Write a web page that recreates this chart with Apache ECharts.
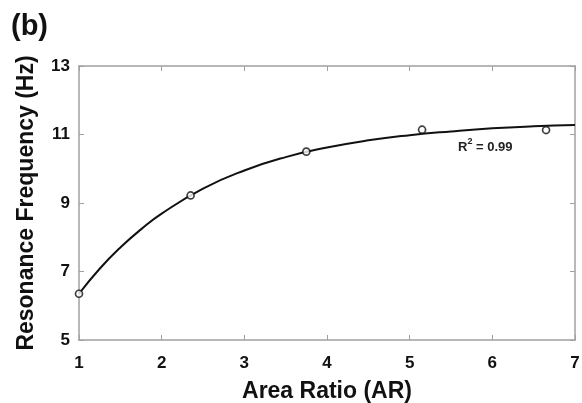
<!DOCTYPE html>
<html>
<head>
<meta charset="utf-8">
<script src="https://cdn.jsdelivr.net/npm/echarts@6/dist/echarts.min.js"></script>
<style>
  html, body { margin: 0; padding: 0; background: #fff; }
  #chart { width: 582px; height: 403px; }
</style>
</head>
<body>
<div id="chart"></div>
<script>
// measured points (area ratio, frequency)
var measX = [1, 2.35, 3.75, 5.15, 6.65]
var measY = [6.35, 9.22, 10.5, 11.14, 11.13]

// fitted curve
var fitX = [1, 1.25, 1.5, 1.75, 2, 2.5, 3, 3.5, 4, 4.5, 5, 5.5, 6, 6.5, 7]
var fitY = [6.35, 7.08, 7.70, 8.23, 8.69, 9.42, 9.95, 10.34, 10.62, 10.83, 10.98, 11.09, 11.18, 11.24, 11.28]

var xTicks = [1, 2, 3, 4, 5, 6, 7]
var yTicks = [5, 7, 9, 11, 13]

var axisGray = '#a0a0a0'
var textCol = '#111'
var font = 'Liberation Sans, Arial, sans-serif'

var measData = measX.map(function (x, i) { return [x, measY[i]] })
var fitData = fitX.map(function (x, i) { return [x, fitY[i]] })

var myChart = echarts.init(document.getElementById('chart'))

var xBase = {
  type: 'value', min: xTicks[0], max: xTicks[xTicks.length - 1], interval: 1,
  axisLine: { show: true, lineStyle: { color: axisGray, width: 1.5 } },
  axisTick: { show: true, inside: true, length: 5, lineStyle: { color: axisGray } },
  splitLine: { show: false }
}
var yBase = {
  type: 'value', min: yTicks[0], max: yTicks[yTicks.length - 1], interval: 2,
  axisLine: { show: true, lineStyle: { color: axisGray, width: 1.5 } },
  axisTick: { show: true, inside: true, length: 5, lineStyle: { color: axisGray } },
  splitLine: { show: false }
}

var option = {
  animation: false,
  grid: { left: 79, right: 7, top: 66, bottom: 63, containLabel: false, outerBoundsMode: 'none' },
  xAxis: [
    Object.assign({}, xBase, {
      position: 'bottom',
      name: 'Area Ratio (AR)',
      nameLocation: 'middle',
      nameGap: 40,
      nameTextStyle: { fontFamily: font, fontWeight: 'bold', fontSize: 23, color: textCol },
      axisLabel: { margin: 15, fontFamily: font, fontWeight: 'bold', fontSize: 17, color: textCol }
    }),
    Object.assign({}, xBase, { position: 'top', axisLabel: { show: false } })
  ],
  yAxis: [
    Object.assign({}, yBase, {
      position: 'left',
      name: 'Resonance Frequency (Hz)',
      nameLocation: 'middle',
      nameGap: 41,
      nameTextStyle: { fontFamily: font, fontWeight: 'bold', fontSize: 23, color: textCol },
      axisLabel: { margin: 9, fontFamily: font, fontWeight: 'bold', fontSize: 17, color: textCol }
    }),
    Object.assign({}, yBase, { position: 'right', axisLabel: { show: false } })
  ],
  graphic: [
    {
      type: 'text', left: 11, top: 12,
      style: { text: '(b)', fontFamily: font, fontWeight: 'bold', fontSize: 29, fill: textCol }
    },
    {
      type: 'text', left: 458, top: 137,
      style: {
        text: '{a|R}{s|2}{a| = 0.99}',
        rich: {
          a: { fontFamily: font, fontWeight: 'bold', fontSize: 13, fill: '#222', lineHeight: 17, verticalAlign: 'bottom' },
          s: { fontFamily: font, fontWeight: 'bold', fontSize: 9, fill: '#222', lineHeight: 17, verticalAlign: 'top', padding: [0, 0, 8, 0] }
        }
      }
    }
  ],
  series: [
    {
      type: 'line',
      data: fitData,
      smooth: true,
      symbol: 'none',
      lineStyle: { color: '#111', width: 2 },
      z: 2
    },
    {
      type: 'scatter',
      data: measData,
      symbol: 'circle',
      symbolSize: 7,
      itemStyle: { color: '#fff', borderColor: '#111', borderWidth: 1.7 },
      z: 3
    }
  ]
}

myChart.setOption(option)
</script>
</body>
</html>
